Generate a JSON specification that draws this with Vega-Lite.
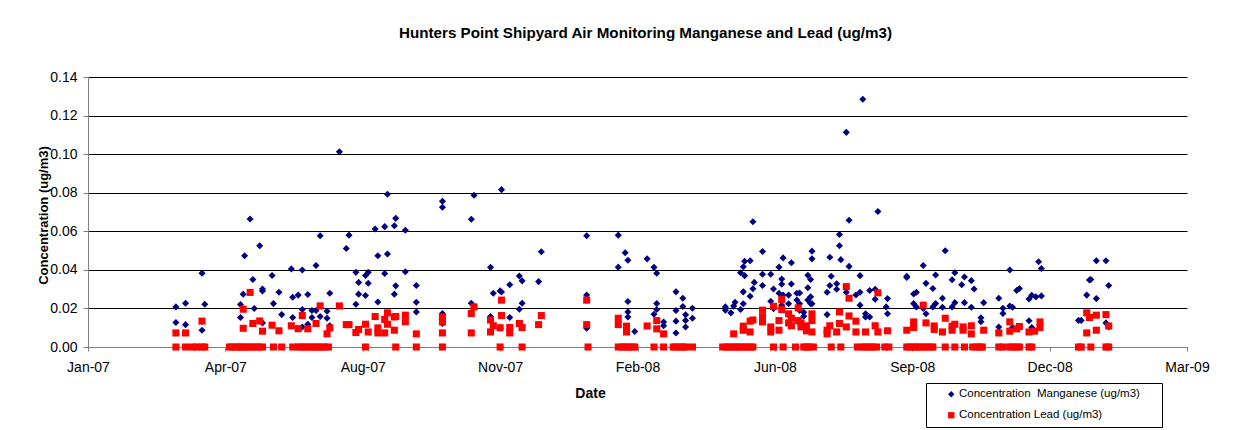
{
"$schema": "https://vega.github.io/schema/vega-lite/v6.json",
"width": 1099, "height": 270,
"autosize": {"type": "none"},
"padding": {"left": 88, "top": 77, "right": 69, "bottom": 83},
"background": "white",
"config": {"view": {"stroke": null}, "font": "Liberation Sans"},
"title": {"text": "Hunters Point Shipyard Air Monitoring Manganese and Lead (ug/m3)", "fontSize": 15.2, "fontWeight": "bold", "font": "Liberation Sans", "color": "black", "anchor": "middle", "frame": "group", "offset": 29, "dx": 8},
"data": {"values": [
{"date":"2007-03-23","series":"Mn","value":0.0208},{"date":"2007-03-23","series":"Mn","value":0.0127},
{"date":"2007-03-30","series":"Mn","value":0.0227},{"date":"2007-03-30","series":"Mn","value":0.0116},
{"date":"2007-04-11","series":"Mn","value":0.0383},{"date":"2007-04-11","series":"Mn","value":0.0087},
{"date":"2007-04-13","series":"Mn","value":0.0222},
{"date":"2007-05-09","series":"Mn","value":0.022},{"date":"2007-05-09","series":"Mn","value":0.0153},
{"date":"2007-05-11","series":"Mn","value":0.0274},
{"date":"2007-05-12","series":"Mn","value":0.0473},
{"date":"2007-05-16","series":"Mn","value":0.0664},
{"date":"2007-05-18","series":"Mn","value":0.035},
{"date":"2007-05-19","series":"Mn","value":0.020},
{"date":"2007-05-23","series":"Mn","value":0.0525},
{"date":"2007-05-25","series":"Mn","value":0.0291},{"date":"2007-05-25","series":"Mn","value":0.0301},{"date":"2007-05-25","series":"Mn","value":0.0125},
{"date":"2007-06-01","series":"Mn","value":0.0371},
{"date":"2007-06-02","series":"Mn","value":0.0225},
{"date":"2007-06-06","series":"Mn","value":0.0284},
{"date":"2007-06-08","series":"Mn","value":0.0168},
{"date":"2007-06-15","series":"Mn","value":0.0405},
{"date":"2007-06-16","series":"Mn","value":0.0258},{"date":"2007-06-16","series":"Mn","value":0.0153},
{"date":"2007-06-20","series":"Mn","value":0.0269},
{"date":"2007-06-23","series":"Mn","value":0.0399},{"date":"2007-06-23","series":"Mn","value":0.0194},{"date":"2007-06-23","series":"Mn","value":0.0104},
{"date":"2007-06-27","series":"Mn","value":0.0272},{"date":"2007-06-27","series":"Mn","value":0.0118},
{"date":"2007-06-30","series":"Mn","value":0.0189},{"date":"2007-06-30","series":"Mn","value":0.0153},
{"date":"2007-07-03","series":"Mn","value":0.0423},{"date":"2007-07-03","series":"Mn","value":0.0189},
{"date":"2007-07-06","series":"Mn","value":0.0577},{"date":"2007-07-06","series":"Mn","value":0.0158},
{"date":"2007-07-11","series":"Mn","value":0.0186},{"date":"2007-07-11","series":"Mn","value":0.0149},
{"date":"2007-07-13","series":"Mn","value":0.0279},{"date":"2007-07-13","series":"Mn","value":0.011},
{"date":"2007-07-20","series":"Mn","value":0.1012},
{"date":"2007-07-25","series":"Mn","value":0.0511},
{"date":"2007-07-27","series":"Mn","value":0.058},
{"date":"2007-08-01","series":"Mn","value":0.0387},{"date":"2007-08-01","series":"Mn","value":0.0222},
{"date":"2007-08-03","series":"Mn","value":0.0335},{"date":"2007-08-03","series":"Mn","value":0.0274},
{"date":"2007-08-08","series":"Mn","value":0.0371},{"date":"2007-08-08","series":"Mn","value":0.0267},
{"date":"2007-08-10","series":"Mn","value":0.0387},{"date":"2007-08-10","series":"Mn","value":0.0331},
{"date":"2007-08-15","series":"Mn","value":0.0612},
{"date":"2007-08-17","series":"Mn","value":0.0473},{"date":"2007-08-17","series":"Mn","value":0.0233},
{"date":"2007-08-22","series":"Mn","value":0.0624},{"date":"2007-08-22","series":"Mn","value":0.0381},
{"date":"2007-08-24","series":"Mn","value":0.0792},{"date":"2007-08-24","series":"Mn","value":0.0482},
{"date":"2007-08-29","series":"Mn","value":0.0629},{"date":"2007-08-29","series":"Mn","value":0.0274},
{"date":"2007-08-30","series":"Mn","value":0.0667},{"date":"2007-08-30","series":"Mn","value":0.0317},
{"date":"2007-09-06","series":"Mn","value":0.0605},{"date":"2007-09-06","series":"Mn","value":0.039},
{"date":"2007-09-14","series":"Mn","value":0.0319},{"date":"2007-09-14","series":"Mn","value":0.0232},{"date":"2007-09-14","series":"Mn","value":0.0182},
{"date":"2007-10-03","series":"Mn","value":0.0756},{"date":"2007-10-03","series":"Mn","value":0.0725},{"date":"2007-10-03","series":"Mn","value":0.0174},{"date":"2007-10-03","series":"Mn","value":0.0122},
{"date":"2007-10-24","series":"Mn","value":0.0662},{"date":"2007-10-24","series":"Mn","value":0.0227},
{"date":"2007-10-26","series":"Mn","value":0.0787},
{"date":"2007-11-07","series":"Mn","value":0.0413},{"date":"2007-11-07","series":"Mn","value":0.0158},{"date":"2007-11-07","series":"Mn","value":0.0139},
{"date":"2007-11-09","series":"Mn","value":0.0279},
{"date":"2007-11-14","series":"Mn","value":0.0291},{"date":"2007-11-14","series":"Mn","value":0.0097},
{"date":"2007-11-15","series":"Mn","value":0.0816},{"date":"2007-11-15","series":"Mn","value":0.0285},
{"date":"2007-11-21","series":"Mn","value":0.0323},{"date":"2007-11-21","series":"Mn","value":0.0153},
{"date":"2007-11-28","series":"Mn","value":0.0368},{"date":"2007-11-28","series":"Mn","value":0.0196},
{"date":"2007-11-30","series":"Mn","value":0.0343},{"date":"2007-11-30","series":"Mn","value":0.0227},
{"date":"2007-12-12","series":"Mn","value":0.0339},
{"date":"2007-12-14","series":"Mn","value":0.0494},
{"date":"2008-01-16","series":"Mn","value":0.0577},{"date":"2008-01-16","series":"Mn","value":0.0269},{"date":"2008-01-16","series":"Mn","value":0.0097},
{"date":"2008-02-08","series":"Mn","value":0.058},{"date":"2008-02-08","series":"Mn","value":0.0414},
{"date":"2008-02-13","series":"Mn","value":0.0489},
{"date":"2008-02-15","series":"Mn","value":0.045},{"date":"2008-02-15","series":"Mn","value":0.0236},{"date":"2008-02-15","series":"Mn","value":0.0182},{"date":"2008-02-15","series":"Mn","value":0.0156},
{"date":"2008-02-20","series":"Mn","value":0.008},
{"date":"2008-02-29","series":"Mn","value":0.0457},
{"date":"2008-03-05","series":"Mn","value":0.0413},{"date":"2008-03-05","series":"Mn","value":0.017},
{"date":"2008-03-07","series":"Mn","value":0.0382},{"date":"2008-03-07","series":"Mn","value":0.0225},{"date":"2008-03-07","series":"Mn","value":0.0194},
{"date":"2008-03-12","series":"Mn","value":0.013},{"date":"2008-03-12","series":"Mn","value":0.011},
{"date":"2008-03-21","series":"Mn","value":0.0286},{"date":"2008-03-21","series":"Mn","value":0.0189},{"date":"2008-03-21","series":"Mn","value":0.0134},{"date":"2008-03-21","series":"Mn","value":0.0073},
{"date":"2008-03-26","series":"Mn","value":0.0253},{"date":"2008-03-26","series":"Mn","value":0.021},
{"date":"2008-03-28","series":"Mn","value":0.0167},{"date":"2008-03-28","series":"Mn","value":0.0138},{"date":"2008-03-28","series":"Mn","value":0.0104},
{"date":"2008-04-02","series":"Mn","value":0.0201},{"date":"2008-04-02","series":"Mn","value":0.0149},
{"date":"2008-04-26","series":"Mn","value":0.0208},{"date":"2008-04-26","series":"Mn","value":0.0191},
{"date":"2008-04-30","series":"Mn","value":0.0177},
{"date":"2008-05-02","series":"Mn","value":0.0212},
{"date":"2008-05-03","series":"Mn","value":0.0232},
{"date":"2008-05-07","series":"Mn","value":0.0194},{"date":"2008-05-07","series":"Mn","value":0.0385},
{"date":"2008-05-09","series":"Mn","value":0.0416},{"date":"2008-05-09","series":"Mn","value":0.0286},{"date":"2008-05-09","series":"Mn","value":0.0224},
{"date":"2008-05-10","series":"Mn","value":0.0445},{"date":"2008-05-10","series":"Mn","value":0.037},
{"date":"2008-05-14","series":"Mn","value":0.0447},{"date":"2008-05-14","series":"Mn","value":0.0263},
{"date":"2008-05-16","series":"Mn","value":0.0649},{"date":"2008-05-16","series":"Mn","value":0.0302},
{"date":"2008-05-17","series":"Mn","value":0.0335},
{"date":"2008-05-23","series":"Mn","value":0.0495},{"date":"2008-05-23","series":"Mn","value":0.0377},{"date":"2008-05-23","series":"Mn","value":0.0319},
{"date":"2008-05-29","series":"Mn","value":0.0377},{"date":"2008-05-29","series":"Mn","value":0.0237},
{"date":"2008-05-31","series":"Mn","value":0.0301},{"date":"2008-05-31","series":"Mn","value":0.0199},
{"date":"2008-06-04","series":"Mn","value":0.0414},{"date":"2008-06-04","series":"Mn","value":0.0279},
{"date":"2008-06-06","series":"Mn","value":0.0353},{"date":"2008-06-06","series":"Mn","value":0.0325},{"date":"2008-06-06","series":"Mn","value":0.0217},
{"date":"2008-06-07","series":"Mn","value":0.0462},{"date":"2008-06-07","series":"Mn","value":0.0269},
{"date":"2008-06-11","series":"Mn","value":0.0269},{"date":"2008-06-11","series":"Mn","value":0.0224},
{"date":"2008-06-13","series":"Mn","value":0.0437},{"date":"2008-06-13","series":"Mn","value":0.0327},
{"date":"2008-06-17","series":"Mn","value":0.0279},{"date":"2008-06-17","series":"Mn","value":0.0244},
{"date":"2008-06-19","series":"Mn","value":0.028},{"date":"2008-06-19","series":"Mn","value":0.0224},{"date":"2008-06-19","series":"Mn","value":0.019},
{"date":"2008-06-22","series":"Mn","value":0.018},{"date":"2008-06-22","series":"Mn","value":0.016},
{"date":"2008-06-25","series":"Mn","value":0.0372},{"date":"2008-06-25","series":"Mn","value":0.0307},{"date":"2008-06-25","series":"Mn","value":0.0244},
{"date":"2008-06-27","series":"Mn","value":0.035},{"date":"2008-06-27","series":"Mn","value":0.026},{"date":"2008-06-27","series":"Mn","value":0.0225},
{"date":"2008-06-28","series":"Mn","value":0.0497},{"date":"2008-06-28","series":"Mn","value":0.0457},{"date":"2008-06-28","series":"Mn","value":0.0224},
{"date":"2008-07-09","series":"Mn","value":0.0284},{"date":"2008-07-09","series":"Mn","value":0.0168},
{"date":"2008-07-11","series":"Mn","value":0.0465},{"date":"2008-07-11","series":"Mn","value":0.0319},
{"date":"2008-07-12","series":"Mn","value":0.0367},
{"date":"2008-07-16","series":"Mn","value":0.0328},{"date":"2008-07-16","series":"Mn","value":0.0299},
{"date":"2008-07-18","series":"Mn","value":0.0583},{"date":"2008-07-18","series":"Mn","value":0.0525},
{"date":"2008-07-19","series":"Mn","value":0.0453},
{"date":"2008-07-23","series":"Mn","value":0.1113},{"date":"2008-07-23","series":"Mn","value":0.0284},
{"date":"2008-07-25","series":"Mn","value":0.0657},{"date":"2008-07-25","series":"Mn","value":0.0418},
{"date":"2008-07-30","series":"Mn","value":0.027},
{"date":"2008-08-02","series":"Mn","value":0.037},{"date":"2008-08-02","series":"Mn","value":0.0284},{"date":"2008-08-02","series":"Mn","value":0.0217},
{"date":"2008-08-04","series":"Mn","value":0.1285},
{"date":"2008-08-06","series":"Mn","value":0.0172},{"date":"2008-08-06","series":"Mn","value":0.0156},
{"date":"2008-08-09","series":"Mn","value":0.0293},{"date":"2008-08-09","series":"Mn","value":0.0156},
{"date":"2008-08-13","series":"Mn","value":0.0299},{"date":"2008-08-13","series":"Mn","value":0.0248},
{"date":"2008-08-15","series":"Mn","value":0.0703},
{"date":"2008-08-21","series":"Mn","value":0.0208},
{"date":"2008-08-22","series":"Mn","value":0.0251},{"date":"2008-08-22","series":"Mn","value":0.0172},
{"date":"2008-09-05","series":"Mn","value":0.0367},{"date":"2008-09-05","series":"Mn","value":0.036},
{"date":"2008-09-10","series":"Mn","value":0.0275},{"date":"2008-09-10","series":"Mn","value":0.0225},
{"date":"2008-09-12","series":"Mn","value":0.0284},{"date":"2008-09-12","series":"Mn","value":0.0208},
{"date":"2008-09-17","series":"Mn","value":0.0423},{"date":"2008-09-17","series":"Mn","value":0.02},
{"date":"2008-09-19","series":"Mn","value":0.033},{"date":"2008-09-19","series":"Mn","value":0.0172},
{"date":"2008-09-24","series":"Mn","value":0.0303},{"date":"2008-09-24","series":"Mn","value":0.0208},
{"date":"2008-09-26","series":"Mn","value":0.0373},{"date":"2008-09-26","series":"Mn","value":0.0225},
{"date":"2008-10-01","series":"Mn","value":0.0253},{"date":"2008-10-01","series":"Mn","value":0.0206},
{"date":"2008-10-03","series":"Mn","value":0.0499},
{"date":"2008-10-08","series":"Mn","value":0.0349},{"date":"2008-10-08","series":"Mn","value":0.0208},
{"date":"2008-10-10","series":"Mn","value":0.0385},{"date":"2008-10-10","series":"Mn","value":0.023},
{"date":"2008-10-15","series":"Mn","value":0.0323},
{"date":"2008-10-17","series":"Mn","value":0.0363},{"date":"2008-10-17","series":"Mn","value":0.023},
{"date":"2008-10-22","series":"Mn","value":0.0344},{"date":"2008-10-22","series":"Mn","value":0.0206},
{"date":"2008-10-24","series":"Mn","value":0.0301},
{"date":"2008-10-29","series":"Mn","value":0.0152},{"date":"2008-10-29","series":"Mn","value":0.0131},
{"date":"2008-10-31","series":"Mn","value":0.023},
{"date":"2008-11-11","series":"Mn","value":0.0253},{"date":"2008-11-11","series":"Mn","value":0.0104},
{"date":"2008-11-14","series":"Mn","value":0.0201},{"date":"2008-11-14","series":"Mn","value":0.0174},
{"date":"2008-11-19","series":"Mn","value":0.0399},{"date":"2008-11-19","series":"Mn","value":0.0212},
{"date":"2008-11-21","series":"Mn","value":0.0206},{"date":"2008-11-21","series":"Mn","value":0.0101},
{"date":"2008-11-24","series":"Mn","value":0.0293},
{"date":"2008-11-26","series":"Mn","value":0.0303},
{"date":"2008-12-03","series":"Mn","value":0.0249},{"date":"2008-12-03","series":"Mn","value":0.0136},
{"date":"2008-12-05","series":"Mn","value":0.0268},{"date":"2008-12-05","series":"Mn","value":0.0101},
{"date":"2008-12-08","series":"Mn","value":0.026},
{"date":"2008-12-10","series":"Mn","value":0.0442},
{"date":"2008-12-12","series":"Mn","value":0.0407},{"date":"2008-12-12","series":"Mn","value":0.0265},
{"date":"2009-01-08","series":"Mn","value":0.0138},
{"date":"2009-01-10","series":"Mn","value":0.0138},
{"date":"2009-01-14","series":"Mn","value":0.0269},
{"date":"2009-01-16","series":"Mn","value":0.0347},{"date":"2009-01-16","series":"Mn","value":0.0157},
{"date":"2009-01-17","series":"Mn","value":0.035},
{"date":"2009-01-21","series":"Mn","value":0.0447},{"date":"2009-01-21","series":"Mn","value":0.0251},
{"date":"2009-01-28","series":"Mn","value":0.0447},{"date":"2009-01-28","series":"Mn","value":0.0125},
{"date":"2009-01-30","series":"Mn","value":0.0319},{"date":"2009-01-30","series":"Mn","value":0.0104},

{"date":"2007-03-23","series":"Pb","value":0.0073},{"date":"2007-03-30","series":"Pb","value":0.0073},{"date":"2007-04-11","series":"Pb","value":0.0134},
{"date":"2007-05-11","series":"Pb","value":0.0097},{"date":"2007-05-11","series":"Pb","value":0.0196},
{"date":"2007-05-16","series":"Pb","value":0.0283},{"date":"2007-05-18","series":"Pb","value":0.0122},
{"date":"2007-05-23","series":"Pb","value":0.0135},{"date":"2007-05-25","series":"Pb","value":0.0082},
{"date":"2007-06-01","series":"Pb","value":0.0113},{"date":"2007-06-06","series":"Pb","value":0.0084},
{"date":"2007-06-15","series":"Pb","value":0.011},{"date":"2007-06-20","series":"Pb","value":0.0095},
{"date":"2007-06-23","series":"Pb","value":0.0163},{"date":"2007-06-27","series":"Pb","value":0.0094},
{"date":"2007-07-03","series":"Pb","value":0.0122},{"date":"2007-07-06","series":"Pb","value":0.0213},
{"date":"2007-07-11","series":"Pb","value":0.0068},{"date":"2007-07-13","series":"Pb","value":0.0099},
{"date":"2007-07-20","series":"Pb","value":0.0213},{"date":"2007-07-25","series":"Pb","value":0.0116},
{"date":"2007-07-27","series":"Pb","value":0.0116},{"date":"2007-08-01","series":"Pb","value":0.0075},
{"date":"2007-08-03","series":"Pb","value":0.0091},{"date":"2007-08-08","series":"Pb","value":0.0118},
{"date":"2007-08-10","series":"Pb","value":0.0078},{"date":"2007-08-15","series":"Pb","value":0.0158},
{"date":"2007-08-17","series":"Pb","value":0.0099},{"date":"2007-08-17","series":"Pb","value":0.0073},
{"date":"2007-08-22","series":"Pb","value":0.0143},{"date":"2007-08-22","series":"Pb","value":0.0073},
{"date":"2007-08-24","series":"Pb","value":0.0177},{"date":"2007-08-24","series":"Pb","value":0.0118},
{"date":"2007-08-29","series":"Pb","value":0.0156},{"date":"2007-08-29","series":"Pb","value":0.0087},
{"date":"2007-08-30","series":"Pb","value":0.0158},
{"date":"2007-09-06","series":"Pb","value":0.0165},{"date":"2007-09-06","series":"Pb","value":0.0131},
{"date":"2007-09-14","series":"Pb","value":0.0068},
{"date":"2007-10-03","series":"Pb","value":0.0156},{"date":"2007-10-03","series":"Pb","value":0.013},{"date":"2007-10-03","series":"Pb","value":0.0073},
{"date":"2007-10-24","series":"Pb","value":0.0174},{"date":"2007-10-24","series":"Pb","value":0.0073},
{"date":"2007-10-26","series":"Pb","value":0.0208},
{"date":"2007-11-07","series":"Pb","value":0.014},{"date":"2007-11-07","series":"Pb","value":0.0078},
{"date":"2007-11-09","series":"Pb","value":0.011},{"date":"2007-11-14","series":"Pb","value":0.01},
{"date":"2007-11-15","series":"Pb","value":0.0243},{"date":"2007-11-15","series":"Pb","value":0.0163},
{"date":"2007-11-21","series":"Pb","value":0.0101},{"date":"2007-11-21","series":"Pb","value":0.0073},
{"date":"2007-11-28","series":"Pb","value":0.0122},{"date":"2007-11-30","series":"Pb","value":0.0101},
{"date":"2007-12-12","series":"Pb","value":0.0116},{"date":"2007-12-14","series":"Pb","value":0.0163},
{"date":"2008-01-16","series":"Pb","value":0.0243},{"date":"2008-01-16","series":"Pb","value":0.0116},
{"date":"2008-02-08","series":"Pb","value":0.0149},{"date":"2008-02-08","series":"Pb","value":0.0116},
{"date":"2008-02-14","series":"Pb","value":0.0108},{"date":"2008-02-14","series":"Pb","value":0.0078},
{"date":"2008-02-29","series":"Pb","value":0.0109},
{"date":"2008-03-07","series":"Pb","value":0.0137},{"date":"2008-03-07","series":"Pb","value":0.0094},
{"date":"2008-03-12","series":"Pb","value":0.0068},
{"date":"2008-05-02","series":"Pb","value":0.0068},
{"date":"2008-05-09","series":"Pb","value":0.0108},{"date":"2008-05-09","series":"Pb","value":0.0087},
{"date":"2008-05-14","series":"Pb","value":0.0134},{"date":"2008-05-14","series":"Pb","value":0.0078},
{"date":"2008-05-16","series":"Pb","value":0.014},
{"date":"2008-05-23","series":"Pb","value":0.0191},{"date":"2008-05-23","series":"Pb","value":0.0156},{"date":"2008-05-23","series":"Pb","value":0.013},
{"date":"2008-05-29","series":"Pb","value":0.0104},{"date":"2008-05-29","series":"Pb","value":0.0078},
{"date":"2008-05-31","series":"Pb","value":0.0211},
{"date":"2008-06-04","series":"Pb","value":0.0137},{"date":"2008-06-04","series":"Pb","value":0.0087},
{"date":"2008-06-06","series":"Pb","value":0.0247},{"date":"2008-06-06","series":"Pb","value":0.0194},
{"date":"2008-06-11","series":"Pb","value":0.0172},{"date":"2008-06-11","series":"Pb","value":0.0125},
{"date":"2008-06-13","series":"Pb","value":0.0149},{"date":"2008-06-13","series":"Pb","value":0.011},
{"date":"2008-06-18","series":"Pb","value":0.0203},{"date":"2008-06-18","series":"Pb","value":0.0137},
{"date":"2008-06-20","series":"Pb","value":0.0125},{"date":"2008-06-20","series":"Pb","value":0.0104},
{"date":"2008-06-24","series":"Pb","value":0.011},{"date":"2008-06-24","series":"Pb","value":0.0084},
{"date":"2008-06-28","series":"Pb","value":0.0172},{"date":"2008-06-28","series":"Pb","value":0.0137},{"date":"2008-06-28","series":"Pb","value":0.0078},
{"date":"2008-07-09","series":"Pb","value":0.0087},{"date":"2008-07-09","series":"Pb","value":0.0068},
{"date":"2008-07-11","series":"Pb","value":0.011},{"date":"2008-07-16","series":"Pb","value":0.0078},
{"date":"2008-07-18","series":"Pb","value":0.0182},{"date":"2008-07-18","series":"Pb","value":0.0122},
{"date":"2008-07-23","series":"Pb","value":0.0313},{"date":"2008-07-23","series":"Pb","value":0.0104},
{"date":"2008-07-25","series":"Pb","value":0.0253},{"date":"2008-07-25","series":"Pb","value":0.0161},
{"date":"2008-07-30","series":"Pb","value":0.0134},{"date":"2008-07-30","series":"Pb","value":0.0078},
{"date":"2008-08-06","series":"Pb","value":0.0078},{"date":"2008-08-13","series":"Pb","value":0.011},
{"date":"2008-08-15","series":"Pb","value":0.0281},{"date":"2008-08-15","series":"Pb","value":0.0078},
{"date":"2008-08-22","series":"Pb","value":0.0084},{"date":"2008-09-05","series":"Pb","value":0.0087},
{"date":"2008-09-10","series":"Pb","value":0.013},{"date":"2008-09-10","series":"Pb","value":0.0101},
{"date":"2008-09-17","series":"Pb","value":0.0217},{"date":"2008-09-19","series":"Pb","value":0.0125},
{"date":"2008-09-25","series":"Pb","value":0.0109},{"date":"2008-09-25","series":"Pb","value":0.0091},
{"date":"2008-10-01","series":"Pb","value":0.0078},{"date":"2008-10-03","series":"Pb","value":0.0149},
{"date":"2008-10-08","series":"Pb","value":0.0108},{"date":"2008-10-08","series":"Pb","value":0.0087},
{"date":"2008-10-10","series":"Pb","value":0.0118},
{"date":"2008-10-16","series":"Pb","value":0.0104},{"date":"2008-10-16","series":"Pb","value":0.0087},
{"date":"2008-10-22","series":"Pb","value":0.011},{"date":"2008-10-22","series":"Pb","value":0.0068},
{"date":"2008-10-31","series":"Pb","value":0.0087},{"date":"2008-11-11","series":"Pb","value":0.0073},
{"date":"2008-11-19","series":"Pb","value":0.013},{"date":"2008-11-19","series":"Pb","value":0.0082},
{"date":"2008-11-24","series":"Pb","value":0.0094},{"date":"2008-11-26","series":"Pb","value":0.0106},
{"date":"2008-12-03","series":"Pb","value":0.0078},{"date":"2008-12-07","series":"Pb","value":0.0082},
{"date":"2008-12-11","series":"Pb","value":0.013},{"date":"2008-12-11","series":"Pb","value":0.0101},
{"date":"2009-01-14","series":"Pb","value":0.0177},{"date":"2009-01-14","series":"Pb","value":0.0073},
{"date":"2009-01-16","series":"Pb","value":0.0153},
{"date":"2009-01-21","series":"Pb","value":0.0165},{"date":"2009-01-21","series":"Pb","value":0.0087},
{"date":"2009-01-28","series":"Pb","value":0.0168},{"date":"2009-01-30","series":"Pb","value":0.0109},

{"date":"2007-03-23","series":"Pb","value":0},{"date":"2007-03-30","series":"Pb","value":0},{"date":"2007-04-04","series":"Pb","value":0},{"date":"2007-04-07","series":"Pb","value":0},
{"date":"2007-04-11","series":"Pb","value":0},{"date":"2007-04-13","series":"Pb","value":0},{"date":"2007-05-01","series":"Pb","value":0},{"date":"2007-05-03","series":"Pb","value":0},
{"date":"2007-05-06","series":"Pb","value":0},{"date":"2007-05-08","series":"Pb","value":0},{"date":"2007-05-10","series":"Pb","value":0},{"date":"2007-05-12","series":"Pb","value":0},
{"date":"2007-05-15","series":"Pb","value":0},{"date":"2007-05-17","series":"Pb","value":0},{"date":"2007-05-20","series":"Pb","value":0},{"date":"2007-05-22","series":"Pb","value":0},
{"date":"2007-05-25","series":"Pb","value":0},{"date":"2007-06-02","series":"Pb","value":0},{"date":"2007-06-08","series":"Pb","value":0},{"date":"2007-06-16","series":"Pb","value":0},
{"date":"2007-06-20","series":"Pb","value":0},{"date":"2007-06-22","series":"Pb","value":0},{"date":"2007-06-25","series":"Pb","value":0},{"date":"2007-06-27","series":"Pb","value":0},
{"date":"2007-06-30","series":"Pb","value":0},{"date":"2007-07-02","series":"Pb","value":0},{"date":"2007-07-04","series":"Pb","value":0},{"date":"2007-07-07","series":"Pb","value":0},
{"date":"2007-07-09","series":"Pb","value":0},{"date":"2007-07-12","series":"Pb","value":0},{"date":"2007-08-08","series":"Pb","value":0},{"date":"2007-08-30","series":"Pb","value":0},
{"date":"2007-09-14","series":"Pb","value":0},{"date":"2007-10-03","series":"Pb","value":0},{"date":"2007-11-14","series":"Pb","value":0},{"date":"2007-11-30","series":"Pb","value":0},
{"date":"2008-01-17","series":"Pb","value":0},{"date":"2008-02-08","series":"Pb","value":0},{"date":"2008-02-11","series":"Pb","value":0},{"date":"2008-02-13","series":"Pb","value":0},
{"date":"2008-02-15","series":"Pb","value":0},{"date":"2008-02-18","series":"Pb","value":0},{"date":"2008-02-20","series":"Pb","value":0},{"date":"2008-03-05","series":"Pb","value":0},
{"date":"2008-03-12","series":"Pb","value":0},{"date":"2008-03-19","series":"Pb","value":0},{"date":"2008-03-21","series":"Pb","value":0},{"date":"2008-03-24","series":"Pb","value":0},
{"date":"2008-03-26","series":"Pb","value":0},{"date":"2008-03-28","series":"Pb","value":0},{"date":"2008-04-02","series":"Pb","value":0},{"date":"2008-04-24","series":"Pb","value":0},
{"date":"2008-04-27","series":"Pb","value":0},{"date":"2008-04-29","series":"Pb","value":0},{"date":"2008-05-02","series":"Pb","value":0},{"date":"2008-05-04","series":"Pb","value":0},
{"date":"2008-05-06","series":"Pb","value":0},{"date":"2008-05-09","series":"Pb","value":0},{"date":"2008-05-11","series":"Pb","value":0},{"date":"2008-05-14","series":"Pb","value":0},
{"date":"2008-05-16","series":"Pb","value":0},{"date":"2008-05-31","series":"Pb","value":0},{"date":"2008-06-07","series":"Pb","value":0},{"date":"2008-06-16","series":"Pb","value":0},
{"date":"2008-06-22","series":"Pb","value":0},{"date":"2008-06-24","series":"Pb","value":0},{"date":"2008-06-26","series":"Pb","value":0},{"date":"2008-06-29","series":"Pb","value":0},
{"date":"2008-07-12","series":"Pb","value":0},{"date":"2008-07-19","series":"Pb","value":0},{"date":"2008-07-31","series":"Pb","value":0},{"date":"2008-08-04","series":"Pb","value":0},
{"date":"2008-08-06","series":"Pb","value":0},{"date":"2008-08-09","series":"Pb","value":0},{"date":"2008-08-11","series":"Pb","value":0},{"date":"2008-08-14","series":"Pb","value":0},
{"date":"2008-08-20","series":"Pb","value":0},{"date":"2008-08-23","series":"Pb","value":0},{"date":"2008-09-05","series":"Pb","value":0},{"date":"2008-09-07","series":"Pb","value":0},
{"date":"2008-09-10","series":"Pb","value":0},{"date":"2008-09-12","series":"Pb","value":0},{"date":"2008-09-14","series":"Pb","value":0},{"date":"2008-09-17","series":"Pb","value":0},
{"date":"2008-09-19","series":"Pb","value":0},{"date":"2008-09-22","series":"Pb","value":0},{"date":"2008-09-24","series":"Pb","value":0},{"date":"2008-10-03","series":"Pb","value":0},
{"date":"2008-10-10","series":"Pb","value":0},{"date":"2008-10-17","series":"Pb","value":0},{"date":"2008-10-23","series":"Pb","value":0},{"date":"2008-10-26","series":"Pb","value":0},
{"date":"2008-10-28","series":"Pb","value":0},{"date":"2008-10-30","series":"Pb","value":0},{"date":"2008-11-11","series":"Pb","value":0},{"date":"2008-11-14","series":"Pb","value":0},
{"date":"2008-11-19","series":"Pb","value":0},{"date":"2008-11-21","series":"Pb","value":0},{"date":"2008-11-24","series":"Pb","value":0},{"date":"2008-11-26","series":"Pb","value":0},
{"date":"2008-12-03","series":"Pb","value":0},{"date":"2008-12-05","series":"Pb","value":0},{"date":"2009-01-08","series":"Pb","value":0},{"date":"2009-01-10","series":"Pb","value":0},
{"date":"2009-01-17","series":"Pb","value":0},{"date":"2009-01-28","series":"Pb","value":0},{"date":"2009-01-30","series":"Pb","value":0}
]},
"mark": {"type": "point", "filled": true, "opacity": 1, "strokeWidth": 0, "size": 50},
"encoding": {
  "x": {"field": "date", "type": "temporal",
    "scale": {"type": "utc", "domain": [{"year": 2007, "month": 1, "date": 18, "utc": true}, {"year": 2009, "month": 3, "date": 28, "utc": true}]},
    "axis": {"values": [
      {"year": 2007, "month": 1, "date": 18, "utc": true},
      {"year": 2007, "month": 4, "date": 28, "utc": true},
      {"year": 2007, "month": 8, "date": 6, "utc": true},
      {"year": 2007, "month": 11, "date": 14, "utc": true},
      {"year": 2008, "month": 2, "date": 22, "utc": true},
      {"year": 2008, "month": 6, "date": 1, "utc": true},
      {"year": 2008, "month": 9, "date": 9, "utc": true},
      {"year": 2008, "month": 12, "date": 18, "utc": true},
      {"year": 2009, "month": 3, "date": 28, "utc": true}],
      "format": "%b-%y", "labelFontSize": 14, "labelColor": "black", "labelFont": "Liberation Sans",
      "labelFlush": false, "labelOverlap": false, "labelPadding": 9,
      "tickSize": 4, "tickColor": "#808080", "domainColor": "#808080", "grid": false,
      "title": "Date", "titleFontSize": 14, "titleFontWeight": "bold", "titleColor": "black", "titleFont": "Liberation Sans",
      "titleX": 502, "titleY": 39, "titleBaseline": "top"}},
  "y": {"field": "value", "type": "quantitative",
    "scale": {"domain": [0, 0.14], "nice": false, "zero": true},
    "axis": {"values": [0, 0.02, 0.04, 0.06, 0.08, 0.1, 0.12, 0.14], "format": ".2f",
      "labelFontSize": 14, "labelColor": "black", "labelFont": "Liberation Sans", "labelFlush": false,
      "tickSize": 5, "labelPadding": 6, "tickColor": "#808080", "domainColor": "#808080",
      "grid": true, "gridColor": "#000000", "gridWidth": 1,
      "title": "Concentration (ug/m3)", "titleFontSize": 13, "titleFontWeight": "bold", "titleColor": "black", "titleFont": "Liberation Sans",
      "titleX": -45, "titleY": 138, "titleBaseline": "middle"}},
  "color": {"field": "series", "type": "nominal",
    "scale": {"domain": ["Mn", "Pb"], "range": ["#000080", "#FF0000"]},
    "legend": {"orient": "none", "legendX": 838, "legendY": 306, "title": null,
      "strokeColor": "#000000", "fillColor": "white", "padding": 5.5, "symbolOffset": 14,
      "labelFontSize": 11.5, "labelFont": "Liberation Sans", "labelColor": "black", "labelLimit": 400,
      "symbolSize": 40, "rowPadding": 8, "labelOffset": 2,
      "labelExpr": "datum.label == 'Mn' ? 'Concentration\u00a0 Manganese (ug/m3)\u00a0\u00a0\u00a0\u00a0\u00a0\u200b' : 'Concentration Lead (ug/m3)'"}},
  "shape": {"field": "series", "type": "nominal",
    "scale": {"domain": ["Mn", "Pb"], "range": ["diamond", "square"]}}
}
}
